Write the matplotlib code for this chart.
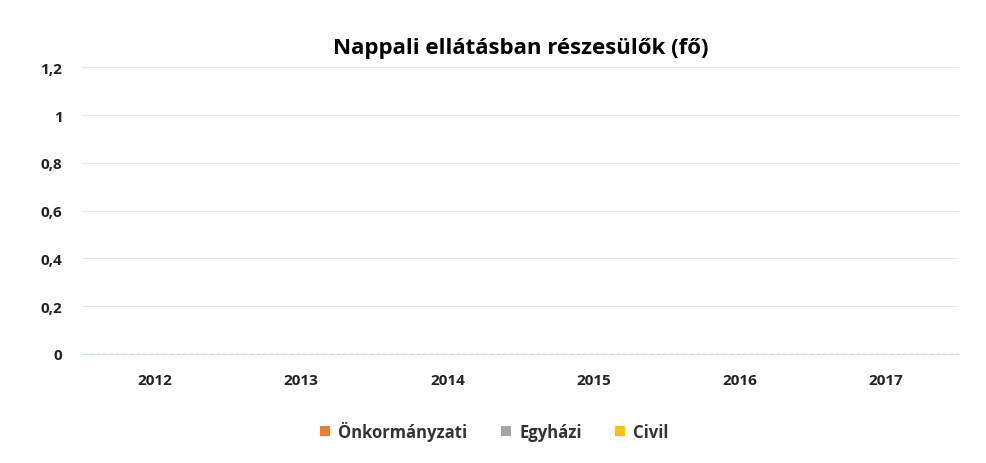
import matplotlib.pyplot as plt
import numpy as np

years = ['2012', '2013', '2014', '2015', '2016', '2017']
onkormanyzati = [0, 0, 0, 0, 0, 0]
egyhazi = [0, 0, 0, 0, 0, 0]
civil = [0, 0, 0, 0, 0, 0]

plt.rcParams['font.family'] = ['Open Sans', 'DejaVu Sans']

fig = plt.figure(figsize=(9.86, 4.64), dpi=100)
ax = fig.add_axes([0.083, 0.235, 0.89, 0.618])

x = np.arange(len(years))
w = 0.25
ax.bar(x - w, onkormanyzati, w, color='#ED7D31', label='Önkormányzati')
ax.bar(x, egyhazi, w, color='#A5A5A5', label='Egyházi')
ax.bar(x + w, civil, w, color='#FFC000', label='Civil')

ax.set_xlim(-0.5, len(years) - 0.5)
ax.set_ylim(0, 1.2)
yt = [0, 0.2, 0.4, 0.6, 0.8, 1, 1.2]
ax.set_yticks(yt)
ax.set_yticklabels([('%g' % v).replace('.', ',') for v in yt], fontsize=11, fontweight='bold', color='#222222')
ax.set_xticks(x)
ax.set_xticklabels(years, fontsize=11, fontweight='bold', color='#222222')
ax.tick_params(length=0, pad=14)
ax.tick_params(axis='y', pad=14)

ax.grid(axis='y', color='#e6e6e6', linewidth=0.8)
ax.set_axisbelow(True)
for s in ['top', 'right', 'left']:
    ax.spines[s].set_visible(False)
ax.spines['bottom'].set_color('#bcd6e6')
ax.spines['bottom'].set_linestyle((0, (4, 2)))

ax.set_title('Nappali ellátásban részesülők (fő)', fontsize=16, fontweight='bold', pad=10)

leg = ax.legend(loc='upper center', bbox_to_anchor=(0.47, -0.18), ncol=3, frameon=False,
                prop={'size': 12, 'weight': 'bold'}, handlelength=0.6, handleheight=0.6,
                columnspacing=2, handletextpad=0.5)
for t in leg.get_texts():
    t.set_color('#333333')

fig.savefig('out.png', dpi=100)
